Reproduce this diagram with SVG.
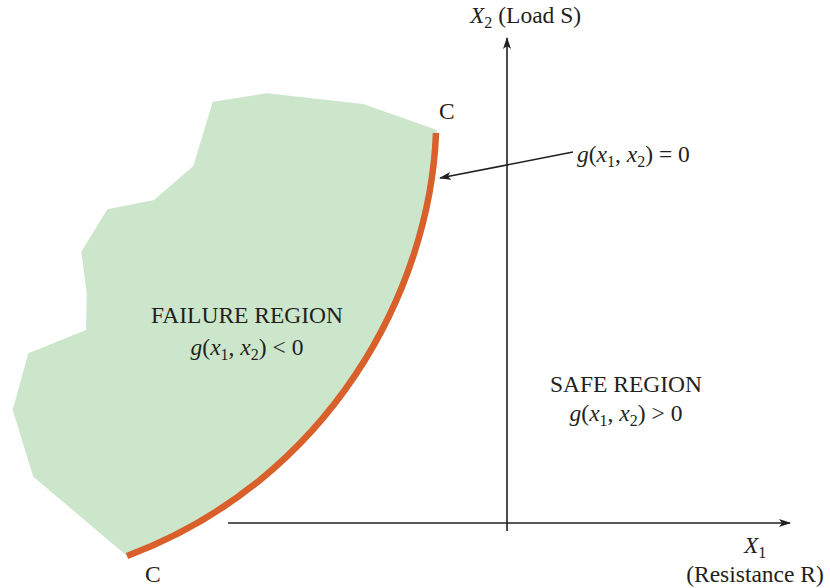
<svg xmlns="http://www.w3.org/2000/svg" width="830" height="588" viewBox="0 0 830 588">
<style>
text{font-family:"Liberation Serif","Times New Roman",serif;font-size:23.5px;fill:#231f20}
.i{font-style:italic}
.s{font-size:16px}
.ax{stroke:#231f20;stroke-width:1.6;fill:none}
</style>
<defs>
<marker id="ah" markerWidth="12" markerHeight="8" refX="11" refY="4" orient="auto" markerUnits="userSpaceOnUse">
<path d="M0,0 L12,4 L0,8 L3,4 Z" fill="#231f20"/>
</marker>
</defs>
<g id="failure-region">
<path d="M212.7,101.7 L266.7,93.3 L363.3,104 L437,130 C430,290 330,480 127,556 L33.3,476.7 L12.7,410 L28.3,353.3 L86,330 L86.7,293.3 L81.3,251.7 L107.3,209.3 L154,200 L193.3,166 Z" fill="#cce6cc"/>
<text x="247" y="323" text-anchor="middle">FAILURE REGION</text>
<text x="247" y="355" text-anchor="middle"><tspan class="i">g</tspan>(<tspan class="i">x</tspan><tspan class="s" dy="5">1</tspan><tspan dy="-5">, </tspan><tspan class="i">x</tspan><tspan class="s" dy="5">2</tspan><tspan dy="-5">) &lt; 0</tspan></text>
</g>
<g id="limit-state">
<path d="M436,133 C430,290 330,480 127,556" stroke="#d95f2b" stroke-width="6.5" fill="none"/>
<text x="439" y="119">C</text>
<text x="145" y="582">C</text>
</g>
<g id="safe-region">
<text x="626" y="392" text-anchor="middle">SAFE REGION</text>
<text x="626" y="421" text-anchor="middle"><tspan class="i">g</tspan>(<tspan class="i">x</tspan><tspan class="s" dy="5">1</tspan><tspan dy="-5">, </tspan><tspan class="i">x</tspan><tspan class="s" dy="5">2</tspan><tspan dy="-5">) &gt; 0</tspan></text>
</g>
<g id="connectors">
<line class="ax" x1="507" y1="531" x2="507" y2="38" marker-end="url(#ah)"/>
<line class="ax" x1="228" y1="523" x2="790" y2="523" marker-end="url(#ah)"/>
<line class="ax" x1="573" y1="152" x2="440" y2="178" marker-end="url(#ah)"/>
</g>
<g id="labels">
<text x="470" y="23"><tspan class="i">X</tspan><tspan class="s" dy="5">2</tspan><tspan dy="-5"> (Load S)</tspan></text>
<text x="577" y="162"><tspan class="i">g</tspan>(<tspan class="i">x</tspan><tspan class="s" dy="5">1</tspan><tspan dy="-5">, </tspan><tspan class="i">x</tspan><tspan class="s" dy="5">2</tspan><tspan dy="-5">) = 0</tspan></text>
<text x="744" y="553"><tspan class="i">X</tspan><tspan class="s" dy="5">1</tspan></text>
<text x="755" y="582" text-anchor="middle">(Resistance R)</text>
</g>
</svg>
